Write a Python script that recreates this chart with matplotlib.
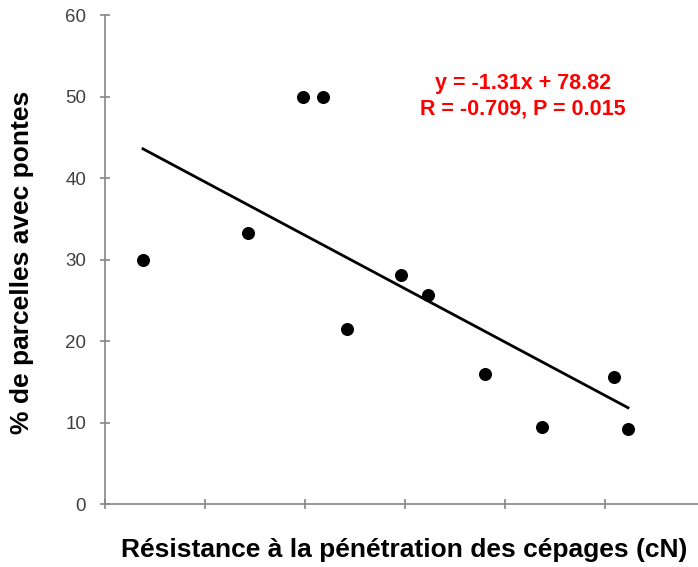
import numpy as np
import matplotlib.pyplot as plt

plt.rcParams["font.family"] = ["Liberation Sans", "DejaVu Sans"]

# resistance (cN) and % of plots with egg-laying
resistance = [26.9, 32.15, 34.9, 35.9, 37.1, 39.8, 41.15, 44.0, 46.85, 50.45, 51.15]
pct_pontes = [30.0, 33.3, 50.0, 50.0, 21.5, 28.1, 25.6, 15.9, 9.5, 15.6, 9.2]

slope, intercept = -1.31, 78.82
eq_text = "y = -1.31x + 78.82"
stat_text = "R = -0.709, P = 0.015"

fig = plt.figure(figsize=(6.98, 5.67), dpi=100)
ax = fig.add_axes([0.1504, 0.1111, 0.8496, 0.8624])

ax.scatter(resistance, pct_pontes, s=70, color="black", zorder=3)
xs = np.array([min(resistance), max(resistance)])
ax.plot(xs, slope * xs + intercept, color="black", lw=2)

ax.set_xlim(25, 54.65)
ax.set_ylim(0, 60)
ax.set_xticks([25, 30, 35, 40, 45, 50])
ax.set_xticklabels([])
ax.set_yticks(range(0, 61, 10))

for side in ["top", "right"]:
    ax.spines[side].set_visible(False)
for side in ["left", "bottom"]:
    ax.spines[side].set_color("#868686")
    ax.spines[side].set_linewidth(1.2)
ax.tick_params(axis="both", direction="inout", length=7, width=1.2, color="#868686",
               labelsize=13.5, labelcolor="#404040")
ax.tick_params(axis="y", pad=10)

ax.text(0.705, 0.834, eq_text + "\n" + stat_text, transform=ax.transAxes, color="red",
        fontsize=15.5, fontweight="bold", ha="center", va="center", linespacing=1.3)

fig.text(0.579, 0.03, "Résistance à la pénétration des cépages (cN)", ha="center",
         va="center", fontsize=19, fontweight="bold")
fig.text(0.032, 0.538, "% de parcelles avec pontes", ha="center", va="center",
         rotation=90, fontsize=19, fontweight="bold")

fig.savefig("out.png", dpi=100)
